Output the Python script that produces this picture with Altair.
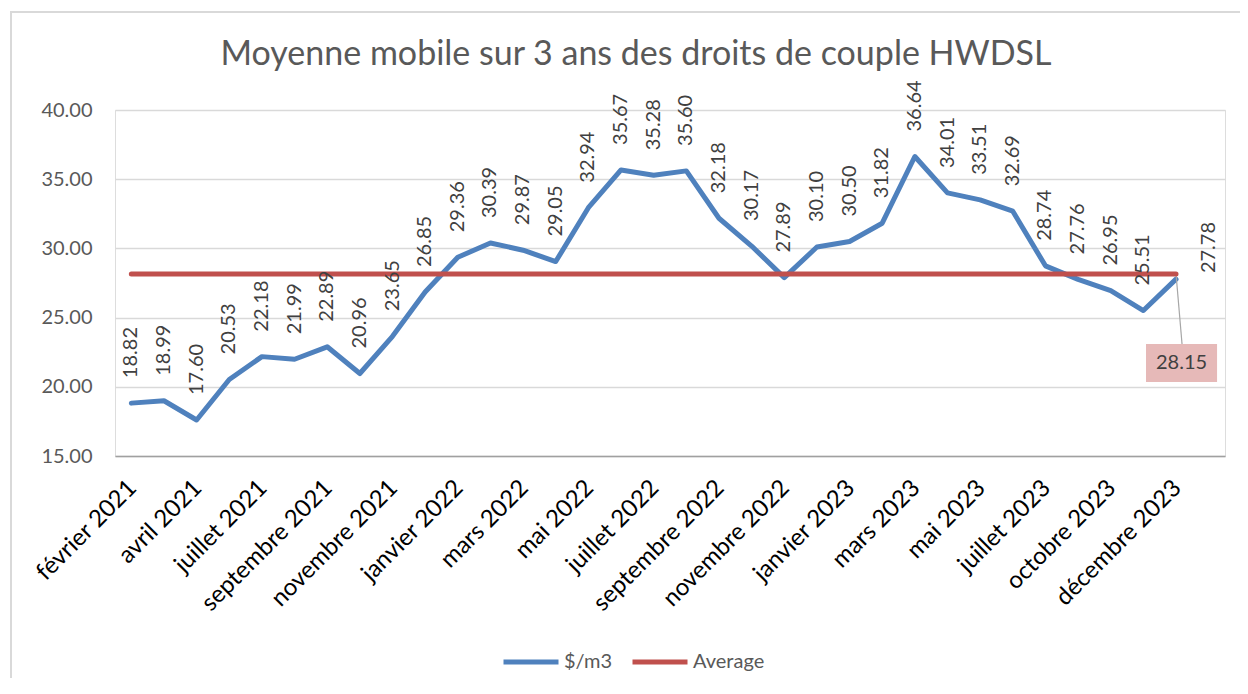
import altair as alt
import pandas as pd

# ---------------- data ----------------
categories = [
    "février 2021", "mars 2021", "avril 2021", "mai 2021", "juillet 2021", "août 2021",
    "septembre 2021", "octobre 2021", "novembre 2021", "décembre 2021", "janvier 2022",
    "février 2022", "mars 2022", "avril 2022", "mai 2022", "juin 2022", "juillet 2022",
    "août 2022", "septembre 2022", "octobre 2022", "novembre 2022", "décembre 2022",
    "janvier 2023", "février 2023", "mars 2023", "avril 2023", "mai 2023", "juin 2023",
    "juillet 2023", "août 2023", "octobre 2023", "novembre 2023", "décembre 2023", " ",
]
values = [
    18.82, 18.99, 17.60, 20.53, 22.18, 21.99, 22.89, 20.96, 23.65, 26.85,
    29.36, 30.39, 29.87, 29.05, 32.94, 35.67, 35.28, 35.60, 32.18, 30.17,
    27.89, 30.10, 30.50, 31.82, 36.64, 34.01, 33.51, 32.69, 28.74, 27.76,
    26.95, 25.51, 27.78,
]
average_value = 28.15
axis_labels = categories[0:33:2]
series_names = ["$/m3", "Average"]
series_colors = ["#4F81BD", "#C0504D"]
y_ticks = [15, 20, 25, 30, 35, 40]
title_text = "Moyenne mobile sur 3 ans des droits de couple HWDSL"

n = len(values)
df_blue = pd.DataFrame({"cat": categories[:n], "val": values, "series": series_names[0]})
df_avg = pd.DataFrame({"cat": categories[:n], "val": [average_value] * n, "series": series_names[1]})
df_lab = pd.DataFrame({"cat": categories[:n - 1], "val": values[:-1],
                       "txt": [f"{v:.2f}" for v in values[:-1]]})
df_lab_last = pd.DataFrame({"cat": [categories[n]], "val": [values[-1]],
                            "txt": [f"{values[-1]:.2f}"]})
df_avg_last = pd.DataFrame({"cat": [categories[n - 1]], "val": [average_value],
                            "txt": [f"{average_value:.2f}"]})

FONT = "Lato"

x_enc = alt.X(
    "cat:N",
    scale=alt.Scale(type="point", domain=categories, padding=0.5),
    axis=alt.Axis(
        values=axis_labels, labelAngle=315, labelAlign="right", labelBaseline="middle",
        labelPadding=28, labelOffset=1, labelFontSize=24, labelColor="#000000",
        labelFont=FONT, labelOverlap=False, labelLimit=400, ticks=False, grid=False,
        domainColor="#A0A0A0", domainWidth=1.5,
    ),
    title=None,
)
y_enc = alt.Y(
    "val:Q",
    scale=alt.Scale(domain=[15, 40], nice=False, zero=False),
    axis=alt.Axis(
        values=y_ticks, format=".2f", labelFontSize=20, labelColor="#595959",
        labelFont=FONT, labelPadding=23, ticks=False, domain=False,
        gridColor="#D9D9D9", gridWidth=1.5,
    ),
    title=None,
)
color_enc = alt.Color(
    "series:N",
    scale=alt.Scale(domain=series_names, range=series_colors),
    legend=alt.Legend(
        title=None, orient="none", legendX=386, legendY=522, direction="horizontal",
        symbolType="stroke", symbolStrokeWidth=5, symbolSize=3025,
        labelFontSize=20, labelColor="#595959", labelFont=FONT,
        columnPadding=9, labelOffset=3, padding=0, gridAlign="none",
    ),
)

border = alt.Chart(pd.DataFrame({"b": [0]})).mark_rect(
    fillOpacity=0, stroke="#D9D9D9", strokeWidth=2
).encode(x=alt.value(-104), x2=alt.value(1200), y=alt.value(-98), y2=alt.value(700))

title = alt.Chart(pd.DataFrame({"t": [title_text]})).mark_text(
    font=FONT, fontSize=34, color="#595959", align="center", baseline="alphabetic"
).encode(x=alt.value(521), y=alt.value(-45), text="t:N")

blue_line = alt.Chart(df_blue).mark_line(
    strokeWidth=5, strokeJoin="round", strokeCap="round"
).encode(x=x_enc, y=y_enc, color=color_enc)

leader = alt.Chart(df_avg_last).mark_rule(
    color="#A6A6A6", strokeWidth=1.2, x2Offset=6, y2Offset=70
).encode(x=x_enc, y=y_enc, x2=alt.X2("cat"), y2=alt.Y2("val"))

red_line = alt.Chart(df_avg).mark_line(
    strokeWidth=5, strokeJoin="round", strokeCap="round"
).encode(x=x_enc, y=y_enc, color=color_enc)

labels = alt.Chart(df_lab).mark_text(
    angle=270, align="left", baseline="middle", dx=25, fontSize=20,
    font=FONT, color="#404040"
).encode(x=x_enc, y=y_enc, text="txt:N")

label_last = alt.Chart(df_lab_last).mark_text(
    angle=270, align="left", baseline="middle", dx=6, fontSize=20,
    font=FONT, color="#404040"
).encode(x=x_enc, y=y_enc, text="txt:N")

box = alt.Chart(df_avg_last).mark_point(
    shape="M-1.87,-1H1.87V1H-1.87Z", size=1444, filled=True, fill="#E6B9B8",
    opacity=1, strokeWidth=0, xOffset=5.5, yOffset=89
).encode(x=x_enc, y=y_enc)

box_text = alt.Chart(df_avg_last).mark_text(
    align="center", baseline="middle", dx=5.5, dy=89, fontSize=20,
    font=FONT, color="#404040"
).encode(x=x_enc, y=y_enc, text="txt:N")

chart = alt.layer(
    border, title, blue_line, leader, red_line, labels, label_last, box, box_text
).properties(
    width=1110, height=346,
    autosize=alt.AutoSizeParams(type="none"),
    padding={"left": 107, "top": 102, "right": 15, "bottom": 222},
).configure_view(stroke=None).configure(background="white")

chart.save("out.html", embed_options={"renderer": "svg", "actions": False})
